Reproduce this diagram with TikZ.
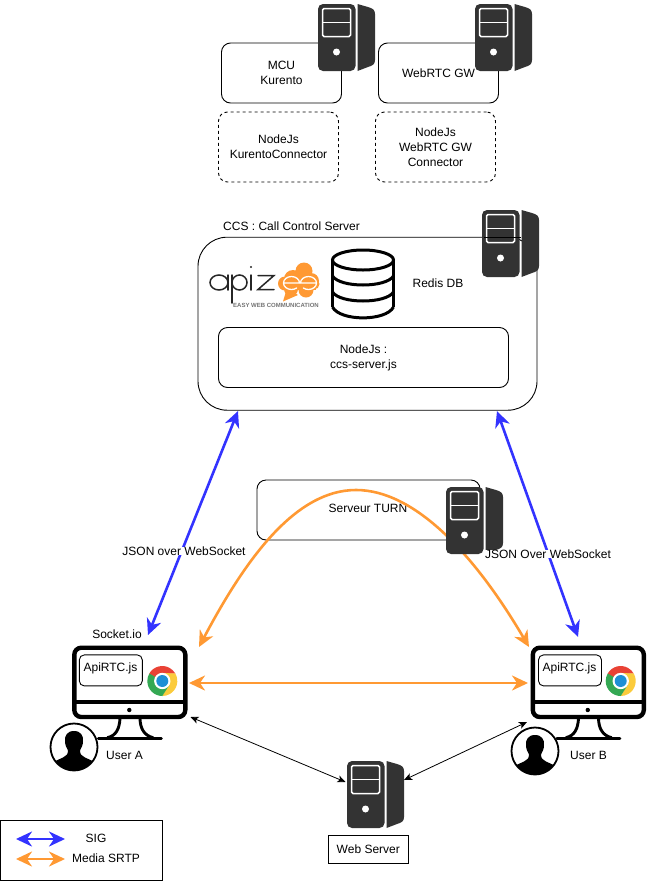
\documentclass[tikz,border=0pt]{standalone}
\usepackage{fontspec}
\setmainfont{Liberation Sans}
\usetikzlibrary{arrows.meta}
\definecolor{srv}{HTML}{333333}
\definecolor{blueA}{HTML}{3333FF}
\definecolor{orangeA}{HTML}{FF9933}
\definecolor{chR}{HTML}{E94235}
\definecolor{chG}{HTML}{34A853}
\definecolor{chY}{HTML}{FBCB3C}
\definecolor{chB}{HTML}{1E8FD5}
\tikzset{
  box/.style={draw=black,line width=0.9pt,rounded corners=9pt,inner sep=0pt,align=center,font=\fontsize{12}{15}\selectfont},
  lab/.style={inner sep=0pt,align=center,font=\fontsize{12}{15}\selectfont},
  sig/.style={line width=2.6pt,blueA,{Stealth[length=16pt,width=15pt,inset=5pt]}-{Stealth[length=16pt,width=15pt,inset=5pt]}},
  med/.style={line width=2.6pt,orangeA,{Stealth[length=16pt,width=15pt,inset=5pt]}-{Stealth[length=16pt,width=15pt,inset=5pt]}},
  web/.style={line width=0.8pt,black,{Stealth[length=8pt,width=7pt,inset=2pt]}-{Stealth[length=8pt,width=7pt,inset=2pt]}},
  pics/server/.style={code={
    \fill[srv,rounded corners=5pt] (0,0) rectangle (37.5,67);
    \fill[srv] (39.5,0) -- (50,3) .. controls (55,4.5) and (57,6) .. (57,10) -- (57,56) .. controls (57,60) and (55,61.5) .. (50,63) -- (39.5,67) -- cycle;
    \draw[white,line width=1.5pt,rounded corners=1.5pt] (4.5,4.5) rectangle (32.5,32.5);
    \draw[white,line width=1.5pt] (4.5,18.5) -- (32.5,18.5);
    \fill[white] (18.5,48) circle (3.5);
  }},
  pics/monitor/.style={code={
    \draw[black,line width=2.9pt,line cap=round] (26,92.6) -- (89,92.6);
    \draw[black,line width=2.9pt] (47.7,73) .. controls (47,83) and (44,90) .. (35,92);
    \draw[black,line width=2.9pt] (67.7,73) .. controls (68,83) and (72,90) .. (81,92);
    \draw[black,line width=4.4pt,rounded corners=7pt] (2,2) rectangle (113,71.3);
    \draw[black,line width=3.8pt] (2,56) -- (113,56);
    \fill[black] (57,64.3) circle (2.2);
  }}
}
\newcommand{\chromeicon}[2]{%
  \begin{scope}[shift={(#1,#2)}]
    \fill[chR] (-13,-7.5) arc (210:330:15) -- (0,-7.5) -- (-7,4) -- cycle;
    \fill[chY] (13,-7.5) arc (-30:90:15) -- (6.5,3.75) -- (0,-8) -- cycle;
    \fill[chG] (0,15) arc (90:210:15) -- (-6.5,-3.75) -- (7,4) -- cycle;
    \fill[white] (0,0) circle (8.2);
    \fill[chB] (0,0) circle (6);
  \end{scope}}
\newcommand{\usericon}[2]{%
  \begin{scope}[shift={(#1,#2)}]
    \fill[white] (0,0) circle (23.5);
    \begin{scope}
      \clip (0,0) circle (23.5);
      \fill[black] (0,-16) .. controls (-7,-16) and (-9.5,-11) .. (-9,-6) .. controls (-9,-2) and (-7.5,1) .. (-6,3.5)
        .. controls (-6,7.5) and (-8,9) .. (-11,10.5) -- (-23,16) -- (-23,24) -- (23,24) -- (23,16) -- (11,10.5)
        .. controls (8,9) and (6,7.5) .. (6,3.5) .. controls (7.5,1) and (9,-2) .. (9,-6) .. controls (9.5,-11) and (7,-16) .. (0,-16) -- cycle;
    \end{scope}
    \draw[black,line width=1.8pt] (0,0) circle (23.5);
  \end{scope}}
\begin{document}
\begin{tikzpicture}[x=1pt,y=-1pt]
\useasboundingbox (0,0) rectangle (650,884);
% top boxes
\node[box,minimum width=120pt,minimum height=60pt] (mcu) at (281.5,73) {MCU\\Kurento};
\node[box,minimum width=120pt,minimum height=60pt] (gw) at (438.5,73) {WebRTC GW};
\node[box,dashed,minimum width=120pt,minimum height=70pt] (kc) at (278.5,147) {NodeJs\\KurentoConnector};
\node[box,dashed,minimum width=120pt,minimum height=70pt] (gc) at (435.5,147) {NodeJs\\WebRTC GW\\Connector};
\pic at (318,4) {server};
\pic at (475,4) {server};
% CCS
\node[box,rounded corners=29pt,minimum width=339pt,minimum height=173pt] (ccs) at (367.5,323.7) {};
\pic at (482,210) {server};
\draw[black,line width=0.9pt] (484,237.2) -- (521,237.2);
\node[lab,anchor=west] (ccst) at (223,226) {CCS : Call Control Server};
\node[box,minimum width=290pt,minimum height=60pt] (njs) at (363.5,357.5) {NodeJs :\\ccs-server.js};
\node[lab] (redis) at (438,283) {Redis DB};
% database
\begin{scope}[line width=3pt,black]
  \draw (332.5,260) -- (332.5,307);
  \draw (393.5,260) -- (393.5,307);
  \draw (363,260) ellipse [x radius=30.5,y radius=10];
  \draw (332.5,276) .. controls (340,288) and (386,288) .. (393.5,276);
  \draw (332.5,292) .. controls (340,304) and (386,304) .. (393.5,292);
  \draw (332.5,307) .. controls (340,321.5) and (386,321.5) .. (393.5,307);
\end{scope}
% logo
\fill[orangeA] (293,279) circle (9) (304,271) circle (8.5) (311,281) circle (8) (306,290) circle (7.5) (291,289) circle (7) (285,283.5) circle (7) (314,284) circle (5.5);
\fill[orangeA] (286,278) rectangle (316,290);
\fill[orangeA] (283,301.5) -- (287,288) -- (298,295) -- cycle;
\begin{scope}[white,line width=1.3pt,line cap=round]
  \draw (283.5,283) -- (299.5,283) arc (0:-310:8 and 6.5);
  \draw (316.5,283) -- (300.5,283) arc (180:490:8 and 6.5);
\end{scope}
\begin{scope}[black!85,line width=1.5pt,line cap=round]
  \draw (219,282.5) ellipse [x radius=9,y radius=7.5];
  \draw (228,275) -- (228,290);
  \draw (239.5,282.5) ellipse [x radius=7.5,y radius=7.5];
  \draw (232,275) -- (232,303);
  \draw (251,275) -- (251,290);
  \draw (258,275.5) -- (274,275.5) -- (258,289.5) -- (274,289.5);
\end{scope}
\fill[black!85] (251,267) circle (1.2);
\node[lab,text=black!55,font=\fontsize{6}{6}\selectfont\bfseries] (tag) at (276,305.5) {EASY WEB COMMUNICATION};
% TURN
\node[box,minimum width=223pt,minimum height=60pt] (turn) at (368.5,510) {};
\node[lab] (turnt) at (368,508) {Serveur TURN};
% connectors
\coordinate (a1) at (199,647);
\coordinate (b1) at (529,647);
\coordinate (a2) at (189,683);
\coordinate (b2) at (528,683);
\coordinate (c1t) at (238,411);
\coordinate (c1b) at (148,635);
\coordinate (c2t) at (497,411);
\coordinate (c2b) at (578,637);
\coordinate (w1) at (190.5,717);
\coordinate (w2) at (345.5,782);
\coordinate (w3) at (404,780);
\coordinate (w4) at (527,722);
\draw[med] (a1) .. controls (245,560) and (295,490) .. (356,490) .. controls (415,490) and (475,555) .. (b1);
\draw[med] (a2) -- (b2);
\draw[sig] (c1t) -- (c1b);
\draw[sig] (c2t) -- (c2b);
\draw[web] (w1) -- (w2);
\draw[web] (w3) -- (w4);
\pic at (446,487) {server};
\pic at (347,761) {server};
\node[lab,fill=white,inner xsep=1pt] (l1) at (184,551) {JSON over WebSocket};
\node[lab,fill=white,inner xsep=1pt] (l2) at (548,554) {JSON Over WebSocket};
% clients
\pic at (72.3,645.7) {monitor};
\pic at (530.8,645.7) {monitor};
\node[box,rounded corners=5pt,minimum width=63pt,minimum height=31pt] (ra) at (110.8,670.4) {};
\node[lab] at (110.5,668) {ApiRTC.js};
\node[box,rounded corners=5pt,minimum width=63pt,minimum height=31pt] (rb) at (570,670.4) {};
\node[lab] at (569.5,668) {ApiRTC.js};
\chromeicon{162.3}{681}
\chromeicon{620.7}{681}
\usericon{74}{747}
\usericon{535}{751}
\node[lab] (ua) at (124.5,755) {User A};
\node[lab] (ub) at (588.5,755) {User B};
\node[lab] (sio) at (117,634) {Socket.io};
% web
\node[draw=black,line width=0.9pt,lab,minimum width=80pt,minimum height=28pt] (ws) at (368.3,849.5) {Web Server};
% legend
\node[draw=black,line width=0.9pt,minimum width=162pt,minimum height=60pt,inner sep=0pt] (leg) at (81,850) {};
\coordinate (s1) at (16,839);
\coordinate (s2) at (65,839);
\coordinate (m1) at (16,859);
\coordinate (m2) at (65,859);
\draw[sig] (s1) -- (s2);
\draw[med] (m1) -- (m2);
\node[lab] (ls) at (96,838) {SIG};
\node[lab] (lm) at (106,858) {Media SRTP};
\end{tikzpicture}
\end{document}
